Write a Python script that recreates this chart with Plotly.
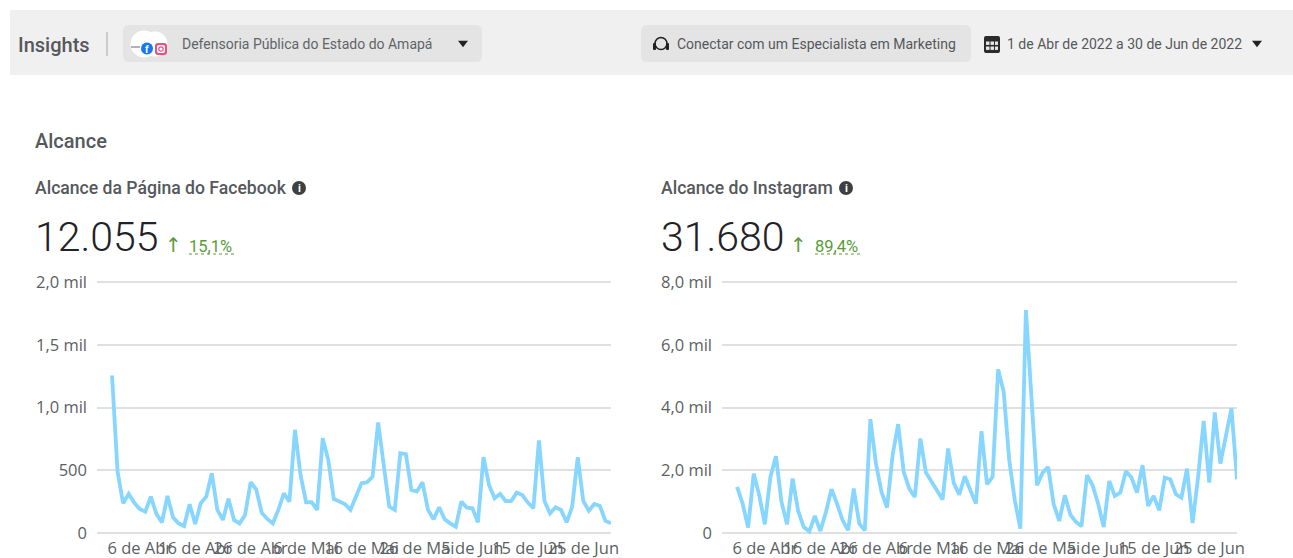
import plotly.graph_objects as go
import pandas as pd

W, H = 1293, 558

dates = pd.date_range("2022-04-01", "2022-06-30").strftime("%Y-%m-%d").tolist()

facebook_reach = [
    1255, 490, 237, 311, 242, 191, 170, 290, 152, 85, 295, 125, 77, 56, 229, 72,
    237, 290, 476, 184, 104, 274, 104, 77, 144, 404, 348, 162, 112, 77, 184, 316,
    250, 822, 463, 245, 245, 184, 755, 583, 271, 255, 231, 184, 290, 396, 404, 450,
    880, 529, 210, 184, 636, 628, 343, 330, 404, 184, 109, 205, 109, 77, 50, 250,
    202, 197, 85, 604, 383, 277, 311, 255, 255, 322, 303, 242, 197, 737, 255, 157,
    205, 184, 85, 210, 604, 255, 178, 231, 215, 96, 77,
]
instagram_reach = [
    1468, 936, 170, 1894, 1202, 277, 1787, 2447, 990, 277, 1734, 702, 191, 53, 543, 64,
    670, 1394, 936, 404, 85, 1415, 298, 85, 3628, 2213, 1309, 809, 2479, 3469, 1947, 1415,
    1149, 3011, 1926, 1628, 1309, 1064, 2692, 1596, 1224, 1809, 1362, 936, 3245, 1553, 1787, 5213,
    4500, 2320, 1043, 138, 7107, 4340, 1521, 1915, 2106, 915, 383, 1202, 585, 351, 213, 1840,
    1521, 936, 191, 1660, 1181, 1287, 1968, 1766, 1287, 2160, 862, 1181, 723, 1766, 1713, 1234,
    1128, 2053, 319, 1787, 3575, 1607, 3841, 2213, 3064, 3969, 1713,
]

x_tickvals = ["2022-04-06", "2022-04-16", "2022-04-26", "2022-05-06", "2022-05-16",
              "2022-05-26", "2022-06-05", "2022-06-15", "2022-06-25"]
x_ticktext = ["6 de Abr", "16 de Abr", "26 de Abr", "6 de Mai", "16 de Mai",
              "26 de Mai", "5 de Jun", "15 de Jun", "25 de Jun"]
fb_tickvals = [0, 500, 1000, 1500, 2000]
fb_ticktext = ["0", "500", "1,0 mil", "1,5 mil", "2,0 mil"]
ig_tickvals = [0, 2000, 4000, 6000, 8000]
ig_ticktext = ["0", "2,0 mil", "4,0 mil", "6,0 mil", "8,0 mil"]

LINE = "#86d6ff"
GRID = "#dfe0e2"
TICK = "#5c5f63"
HEAD = "#55585c"
DARK = "#1f2226"
GREEN = "#5b9a3c"
FONT = "Roboto"


def px(x):
    return x / W


def py(y):
    return 1 - y / H


fig = go.Figure()
fig.add_trace(go.Scatter(x=dates, y=facebook_reach, mode="lines", xaxis="x", yaxis="y",
                         line=dict(color=LINE, width=3.8), showlegend=False))
fig.add_trace(go.Scatter(x=dates, y=instagram_reach, mode="lines", xaxis="x2", yaxis="y2",
                         line=dict(color=LINE, width=3.8), showlegend=False))

xcommon = dict(type="date", tickmode="array", tickvals=x_tickvals, ticktext=x_ticktext,
               tickangle=0, showgrid=False, zeroline=False, showline=False, ticks="",
               automargin=False, ticklabelstandoff=1,
               tickfont=dict(family="Open Sans", size=16.5, color=TICK),
               range=["2022-03-29 07:00", "2022-06-30"])
ycommon = dict(showgrid=True, gridcolor=GRID, gridwidth=1.5, zeroline=False, showline=False,
               ticks="", tickmode="array", ticklabelstandoff=9, automargin=False,
               tickfont=dict(family="Open Sans", size=16.5, color=TICK))

shapes = []
annotations = []


def rect(x0, y0, x1, y1, fill, r=0, layer="below"):
    if r:
        rx, ry = r / W, r / H
        a, b, c, d = px(x0), py(y0), px(x1), py(y1)
        path = (f"M{a + rx},{b} L{c - rx},{b} Q{c},{b} {c},{b - ry} L{c},{d + ry} Q{c},{d} {c - rx},{d} "
                f"L{a + rx},{d} Q{a},{d} {a},{d + ry} L{a},{b - ry} Q{a},{b} {a + rx},{b} Z")
        shapes.append(dict(type="path", xref="paper", yref="paper", path=path, fillcolor=fill,
                           line=dict(width=0), layer=layer))
    else:
        shapes.append(dict(type="rect", xref="paper", yref="paper", x0=px(x0), x1=px(x1),
                           y0=py(y0), y1=py(y1), fillcolor=fill, line=dict(width=0), layer=layer))


def circle(cx, cy, r, fill, line=None, lw=0):
    shapes.append(dict(type="circle", xref="paper", yref="paper", x0=px(cx - r), x1=px(cx + r),
                       y0=py(cy + r), y1=py(cy - r), fillcolor=fill,
                       line=dict(width=lw, color=line or fill), layer="above"))


def seg(x0, y0, x1, y1, color, w=1, dash="solid"):
    shapes.append(dict(type="line", xref="paper", yref="paper", x0=px(x0), x1=px(x1),
                       y0=py(y0), y1=py(y1), line=dict(color=color, width=w, dash=dash), layer="above"))


def tri(cx, cy, color):
    a, b = 5 / W, 4.5 / H
    x, y = px(cx), py(cy)
    shapes.append(dict(type="path", xref="paper", yref="paper",
                       path=f"M{x - a},{y + b * 0.7} L{x + a},{y + b * 0.7} L{x},{y - b * 0.7} Z",
                       fillcolor=color, line=dict(width=0), layer="above"))


def text(x, y, s, size, color=HEAD, weight=400, anchor="left", family=FONT):
    annotations.append(dict(xref="paper", yref="paper", x=px(x), y=py(y), text=s, showarrow=False,
                            xanchor=anchor, yanchor="middle", align=anchor,
                            font=dict(family=family, size=size, color=color, weight=weight),
                            borderpad=0, borderwidth=0))


# header
rect(10, 10, 1293, 75, "#f0f0f0")
rect(123, 25, 482, 62, "#e4e4e4", 6)
rect(641, 25, 971, 62, "#e4e4e4", 6)
seg(107, 32, 107, 56, "#a8a8a8", 1)
text(18, 45, "Insights", 20, HEAD, 500)
text(182, 44, "Defensoria Pública do Estado do Amapá", 14, "#606468")
text(677, 44, "Conectar com um Especialista em Marketing", 14, "#55585c")
text(1007, 44, "1 de Abr de 2022 a 30 de Jun de 2022", 14, "#55585c")
tri(463, 44, "#222")
tri(1257, 44, "#222")

# page logo
circle(144, 44, 13.5, "#ffffff")
circle(155, 44, 12.5, "#ffffff")
seg(131, 47, 140, 47, "#666", 1)
circle(147, 48.5, 6, "#1877f2")
text(147, 49, "f", 10, "#ffffff", 700, "center")
rect(155, 43, 167, 55, "#e1567c", 3, "above")
rect(157, 45, 165, 53, "#ffffff", 2, "above")
circle(161, 49, 2.2, "#ffffff", "#e1567c", 1.2)

# headset and calendar icons
circle(661, 43.5, 6, "rgba(0,0,0,0)", "#222", 1.6)
rect(653, 43, 656, 50, "#222", 1, "above")
rect(666, 43, 669, 50, "#222", 1, "above")
rect(984, 36, 1000, 53, "#2b2b2b", 2)
for gy in (41.5, 46.5):
    rect(986, gy, 998, gy + 3.4, "#e8e8e8")
rect(989.5, 41, 990.5, 51, "#2b2b2b")
rect(994, 41, 995, 51, "#2b2b2b")

# section texts
text(35, 141, "Alcance", 20, HEAD, 500)
for x0, title, icon_x, value, arrow_x, pct, pct_x in [
    (35, "Alcance da Página do Facebook", 299, "12.055", 173, "15,1%", 189),
    (661, "Alcance do Instagram", 846, "31.680", 799, "89,4%", 815),
]:
    text(x0, 188, title, 17.6, HEAD, 500)
    circle(icon_x, 188, 7, "#3d3f42")
    text(icon_x, 188, "i", 11, "#ffffff", 700, "center")
    text(x0, 237, value, 41, DARK, 300)
    text(arrow_x, 245, "↑", 20, GREEN, 400, "center", "DejaVu Sans")
    text(pct_x, 246, pct, 16.5, GREEN)
    seg(pct_x, 254, pct_x + 45, 254, GREEN, 1, "dot")

# 2 px of headroom either side so the first and last gridlines are kept
fb_pad = 2 * 2000 / 251
ig_pad = 2 * 8000 / 251

fig.update_layout(
    width=W, height=H, autosize=False,
    margin=dict(l=0, r=0, t=0, b=0),
    paper_bgcolor="#ffffff", plot_bgcolor="#ffffff",
    showlegend=False, hovermode=False,
    xaxis=dict(domain=[px(97), px(611)], anchor="y", **xcommon),
    yaxis=dict(domain=[py(535), py(280)], anchor="x", range=[-fb_pad, 2000 + fb_pad],
               tickvals=fb_tickvals, ticktext=fb_ticktext, **ycommon),
    xaxis2=dict(domain=[px(722), px(1237)], anchor="y2", **xcommon),
    yaxis2=dict(domain=[py(535), py(280)], anchor="x2", range=[-ig_pad, 8000 + ig_pad],
                tickvals=ig_tickvals, ticktext=ig_ticktext, **ycommon),
    shapes=shapes, annotations=annotations,
)

fig.write_html("out.html", config=dict(displayModeBar=False),
               post_script="document.body.style.margin='0';document.body.style.overflow='hidden';")
